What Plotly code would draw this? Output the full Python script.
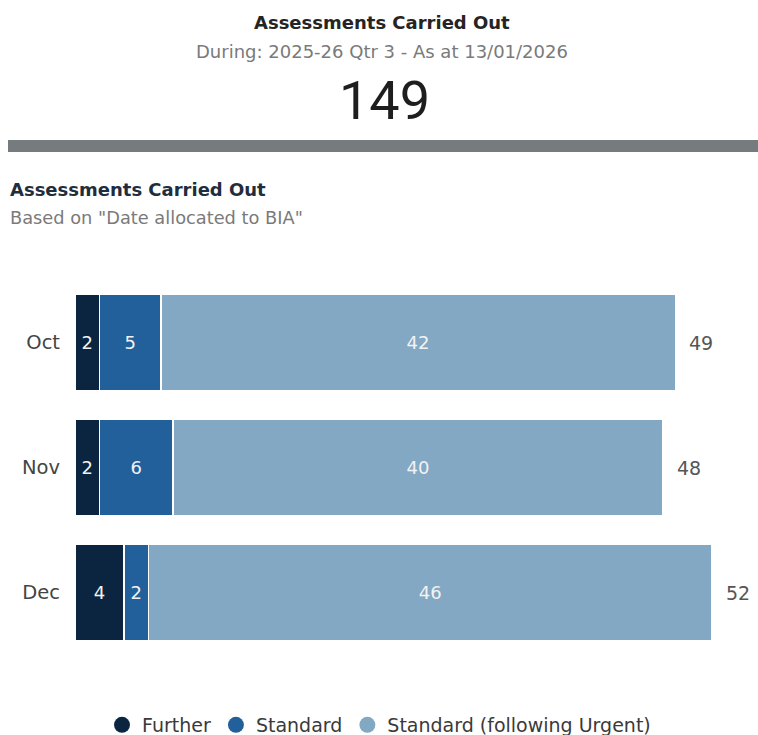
import plotly.graph_objects as go

months = ["Oct", "Nov", "Dec"]
further = [2, 2, 4]
standard = [5, 6, 2]
standard_urgent = [42, 40, 46]
totals = [49, 48, 52]
kpi_total = 149

series_names = ["Further", "Standard", "Standard (following Urgent)"]
colors = ["#0B2540", "#22609C", "#82A8C4"]

FONT = "DejaVu Sans"

fig = go.Figure()
for name, vals, col in zip(series_names, [further, standard, standard_urgent], colors):
    fig.add_trace(go.Bar(
        y=months, x=vals, orientation="h", name=name,
        marker=dict(color=col, line=dict(color="white", width=1.5)),
        text=[str(v) for v in vals], textposition="inside",
        insidetextanchor="middle", constraintext="none",
        textfont=dict(family=FONT, size=18, color="#F2F2F2"),
        showlegend=False, hoverinfo="skip",
    ))
for name, col in zip(series_names, colors):
    fig.add_trace(go.Scatter(
        x=[None], y=[None], mode="markers", name=name,
        marker=dict(symbol="circle", size=17, color=col), showlegend=True,
    ))

for m, t in zip(months, totals):
    fig.add_annotation(x=t, y=m, text=str(t), showarrow=False, xanchor="left",
                       xshift=12, font=dict(family=FONT, size=19, color="#555555"))

# plot area spans pixels x 75..750, y 280..655
def px_x(p):
    return (p - 75) / 675

def px_y(p):
    return (655 - p) / 375

cx = px_x(382)
fig.add_annotation(xref="paper", yref="paper", x=cx, y=px_y(22), xanchor="center", yanchor="middle",
                   text="<b>Assessments Carried Out</b>", showarrow=False,
                   font=dict(family=FONT, size=18, color="#252423"))
fig.add_annotation(xref="paper", yref="paper", x=cx, y=px_y(52), xanchor="center", yanchor="middle",
                   text="During: 2025-26 Qtr 3 - As at 13/01/2026", showarrow=False,
                   font=dict(family=FONT, size=18, color="#7A7A7A"))
fig.add_annotation(xref="paper", yref="paper", x=px_x(384), y=px_y(101), xanchor="center", yanchor="middle",
                   text=str(kpi_total), showarrow=False,
                   font=dict(family="Roboto", size=54, color="#1E1E1E"))
fig.add_annotation(xref="paper", yref="paper", x=px_x(8), y=px_y(189), xanchor="left", yanchor="middle",
                   text="<b>Assessments Carried Out</b>", showarrow=False,
                   font=dict(family=FONT, size=18, color="#1F2D3D"))
fig.add_annotation(xref="paper", yref="paper", x=px_x(8), y=px_y(217), xanchor="left", yanchor="middle",
                   text="Based on \"Date allocated to BIA\"", showarrow=False,
                   font=dict(family=FONT, size=17.8, color="#7A7A7A"))

fig.add_shape(type="rect", xref="paper", yref="paper",
              x0=px_x(8), x1=px_x(760), y0=px_y(152), y1=px_y(140),
              line=dict(width=0), fillcolor="#767B7E", layer="above")

fig.update_layout(
    width=758, height=735,
    margin=dict(l=75, r=8, t=280, b=80),
    paper_bgcolor="white", plot_bgcolor="white",
    barmode="stack", bargap=0.23,
    xaxis=dict(range=[0, 55.1], visible=False, fixedrange=True),
    yaxis=dict(autorange="reversed", showgrid=False, showline=False, zeroline=False,
               ticks="", ticklabelstandoff=14,
               tickfont=dict(family=FONT, size=19.5, color="#444444")),
    legend=dict(orientation="h", x=0.5, xanchor="center", xref="container",
                y=(735 - 725) / 735, yref="container", yanchor="middle",
                traceorder="normal",
                font=dict(family=FONT, size=19, color="#3A3A3A"),
                itemsizing="trace", itemwidth=30, tracegroupgap=0),
    showlegend=True,
)

fig.write_html("out.html")
